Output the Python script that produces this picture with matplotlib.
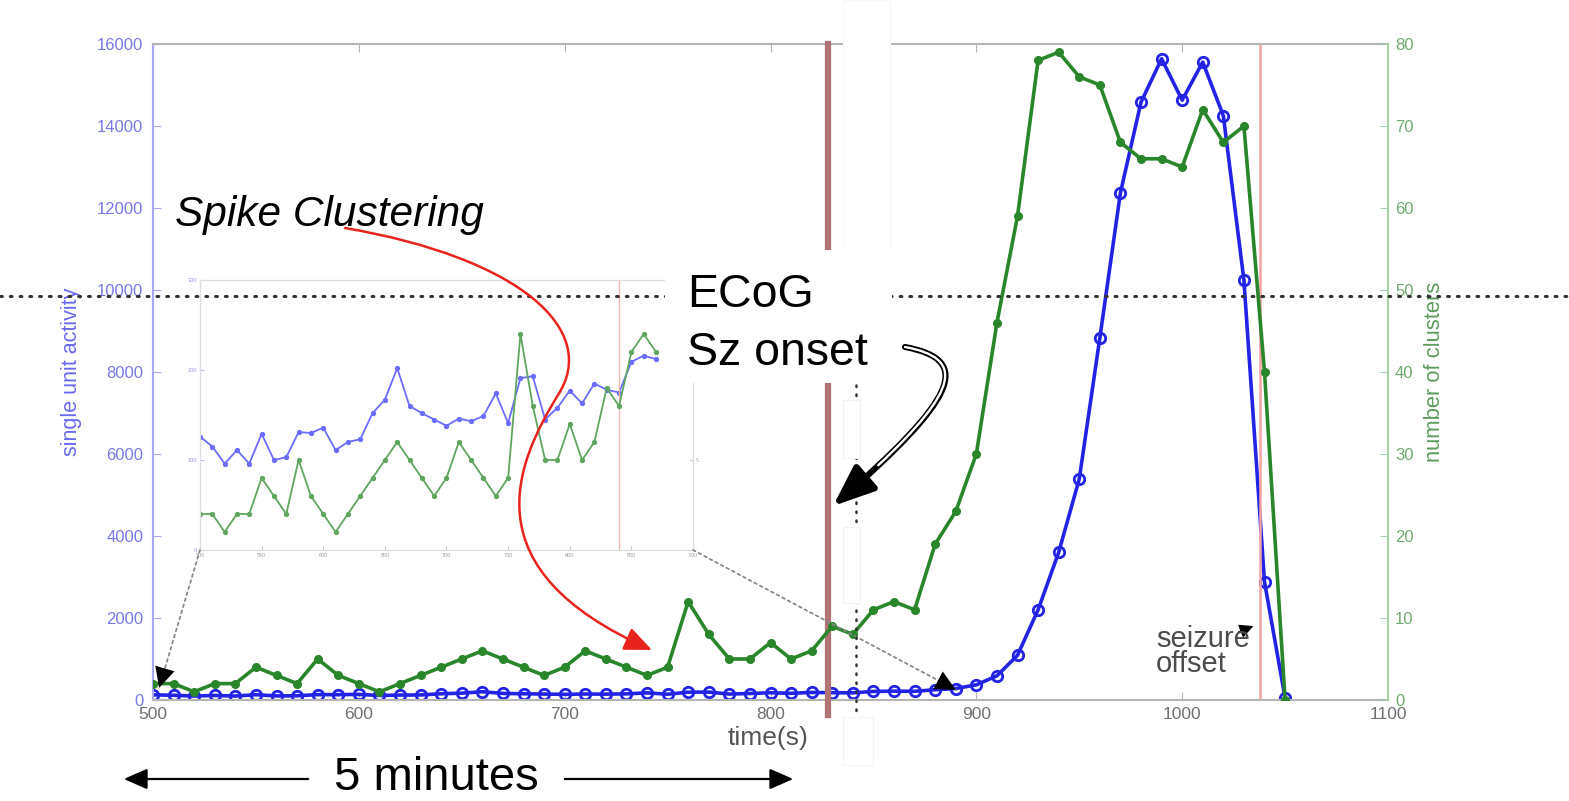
import matplotlib
matplotlib.use("Agg")
import matplotlib.pyplot as plt
from matplotlib.patches import Rectangle, FancyArrowPatch, ConnectionPatch
from matplotlib.path import Path
from matplotlib.lines import Line2D

plt.rcParams['font.family'] = ['Liberation Sans', 'DejaVu Sans']

# data
t = list(range(500, 1060, 10))  # time (s)
units = [126, 115, 96, 111, 96, 129, 100, 103, 131, 130,
         136, 111, 120, 123, 152, 167, 202, 160, 152, 145,
         138, 146, 143, 149, 174, 141, 191, 193, 145, 158,
         177, 163, 185, 178, 175, 209, 216, 212, 250, 280,
         370, 590, 1090, 2200, 3600, 5390, 8830, 12370, 14580, 15640,
         14630, 15560, 14250, 10240, 2880, 50]
clusters = [2, 2, 1, 2, 2, 4, 3, 2, 5, 3,
            2, 1, 2, 3, 4, 5, 6, 5, 4, 3,
            4, 6, 5, 4, 3, 4, 12, 8, 5, 5,
            7, 5, 6, 9, 8, 11, 12, 11, 19, 23,
            30, 46, 59, 78, 79, 76, 75, 68, 66, 66,
            65, 72, 68, 70, 40, 0]
n_inset = 38          # inset shows 500..870 s
onset = 828           # ECoG seizure onset (s)
offset = 1038         # seizure offset (s)
inset_marker = 840

W, H = 1569, 801
def fx(x):
    return x / W
def fy(y):
    return 1 - y / H

fig = plt.figure(figsize=(W / 100, H / 100), dpi=100)

# ---- main plot ----
ax = fig.add_axes([fx(153), fy(700), fx(1388) - fx(153), fy(44) - fy(700)])
ax2 = ax.twinx()

blue = '#2323e6'
green = '#2a862a'
ax.plot(t, units, color=blue, lw=2.6, marker='o', ms=7.5, mfc='none', mew=2)
ax2.plot(t, clusters, color=green, lw=2.6, marker='o', ms=5.5, mfc=green, mec=green)

ax.set_xlim(500, 1100)
ax.set_ylim(0, 16000)
ax2.set_ylim(0, 80)
ax.set_xticks(range(500, 1101, 100))
ax.set_yticks(range(0, 16001, 2000))
ax2.set_yticks(range(0, 81, 10))

ax.axvline(offset, color='#f4a3a3', lw=1.8)
ax.axvline(onset, ymin=-0.023, ymax=1, color='#b07474', lw=4.5, clip_on=False, zorder=5)

for s in ['top', 'bottom']:
    ax.spines[s].set_color('#b4b4b4')
    ax.spines[s].set_linewidth(1.5)
ax.spines['left'].set_color('#a8a8f4')
ax.spines['left'].set_linewidth(1.5)
ax.spines['right'].set_visible(False)
for s in ['top', 'bottom', 'left']:
    ax2.spines[s].set_visible(False)
ax2.spines['right'].set_color('#a6d2a6')
ax2.spines['right'].set_linewidth(1.5)

ax.tick_params(axis='x', direction='in', top=True, length=6, colors='#b4b4b4',
               labelcolor='#707070', labelsize=12.5, pad=5)
ax.tick_params(axis='y', direction='in', length=6, colors='#a8a8f4',
               labelcolor='#7878e6', labelsize=12, pad=7)
ax2.tick_params(axis='y', direction='in', length=6, colors='#a6d2a6',
                labelcolor='#6fa86f', labelsize=12, pad=5)

fig.text(fx(72), fy(372), 'single unit activity', rotation=90, ha='center', va='center',
         color='#6a6af0', fontsize=15.5)
fig.text(fx(1435), fy(372), 'number of clusters', rotation=90, ha='center', va='center',
         color='#5c9c5c', fontsize=15.8)
fig.text(fx(768), fy(738), 'time(s)', ha='center', va='center', color='#555555', fontsize=19)

# ---- inset ----
axin = fig.add_axes([fx(200), fy(550), fx(693) - fx(200), fy(280) - fy(550)])
axin.set_zorder(6)
axin2 = axin.twinx()
axin2.set_zorder(7)
axin2.patch.set_visible(False)
axin.plot(t[:n_inset], units[:n_inset], color='#6c6cff', lw=1.3, marker='o', ms=2.8)
axin2.plot(t[:n_inset], clusters[:n_inset], color='#5fa65f', lw=1.3, marker='o', ms=2.8)
axin.axvline(inset_marker, color='#f2b6b6', lw=1)
axin.set_xlim(500, 900)
axin.set_ylim(0, 300)
axin2.set_ylim(0, 15)
axin.set_xticks(range(500, 901, 50))
axin.set_yticks([0, 100, 200, 300])
axin2.set_yticks([0, 5, 10, 15])
axin2.set_yticklabels(['', '5', '', ''])
for a in (axin, axin2):
    for s in a.spines.values():
        s.set_color('#dddddd')
axin.spines['left'].set_color('#c4c4f6')
axin.tick_params(direction='in', length=3, labelsize=4, colors='#c8c8c8', labelcolor='#a0a0a0', pad=2)
axin.tick_params(axis='y', colors='#b8b8f0', labelcolor='#9a9ae8')
axin2.tick_params(direction='in', length=3, labelsize=4, colors='#c8d8c8', labelcolor='#a0b8a0', pad=2)

# dotted connectors from inset to main axis
for corner, pt in [((0, 0), (503, 300)), ((1, 0), (890, 250))]:
    fig.add_artist(ConnectionPatch(corner, pt, coordsA=axin.transAxes, coordsB=ax.transData,
                                   color='#8a8a8a', lw=1.3, ls=(0, (1.5, 2)), zorder=8))
    fig.add_artist(ConnectionPatch(corner, pt, coordsA=axin.transAxes, coordsB=ax.transData,
                                   arrowstyle='-|>,head_length=0.8,head_width=0.4', mutation_scale=18,
                                   color='black', lw=0.01, zorder=8))

# ---- image overlays ----
fig.add_artist(Rectangle((fx(843), fy(250)), fx(890) - fx(843), fy(0) - fy(250),
                         transform=fig.transFigure, fc='white', ec='#f7f7f7', lw=0.8, zorder=9))
fig.add_artist(Line2D([0, 1], [fy(296), fy(296)], transform=fig.transFigure, color='#333333',
                      lw=2.2, ls=(0, (0.6, 2.6)), dash_capstyle='round', zorder=10))
fig.add_artist(Line2D([fx(856), fx(856)], [fy(385), fy(715)], transform=fig.transFigure,
                      color='#333333', lw=1.8, ls=(0, (0.6, 3.0)), dash_capstyle='round', zorder=9))
for (x0, y0, x1, y1) in [(843, 400, 860, 458), (843, 527, 860, 603), (843, 717, 873, 765)]:
    fig.add_artist(Rectangle((fx(x0), fy(y1)), fx(x1) - fx(x0), fy(y0) - fy(y1),
                             transform=fig.transFigure, fc='white', ec='#f3f3f3', lw=0.8, zorder=9.5))
fig.add_artist(Rectangle((fx(665), fy(383)), fx(892) - fx(665), fy(250) - fy(383),
                         transform=fig.transFigure, fc='white', ec='none', zorder=11))

# ---- annotations ----
fig.text(fx(175), fy(226), 'Spike Clustering', style='italic', fontsize=30.5, va='baseline',
         ha='left', color='black', zorder=13)
fig.text(fx(687), fy(307), 'ECoG', fontsize=33.5, va='baseline', ha='left', zorder=13)
fig.text(fx(687), fy(365), 'Sz onset', fontsize=33.5, va='baseline', ha='left', zorder=13)
fig.text(fx(1156), fy(647), 'seizure', fontsize=21, va='baseline', ha='left', color='#4c4c4c', zorder=13)
fig.text(fx(1156), fy(672), 'offset', fontsize=21, va='baseline', ha='left', color='#4c4c4c', zorder=13)
fig.text(fx(436), fy(800), '5 minutes', fontsize=34, va='bottom', ha='center', zorder=13)

# red S-curve arrow
red_pts = [(345, 228), (520, 258), (600, 330), (558, 395), (515, 465), (470, 570), (652, 650)]
red_path = Path([(fx(x), fy(y)) for x, y in red_pts],
                [Path.MOVETO] + [Path.CURVE4] * 6)
fig.add_artist(FancyArrowPatch(path=red_path, transform=fig.transFigure,
                               arrowstyle='-|>,head_length=0.7,head_width=0.3', mutation_scale=24,
                               color='#e8231e', lw=1.8, zorder=12))

# hollow black arrow to onset line
def split_cubic(p, s):
    a = [(p[0][0] + (p[1][0] - p[0][0]) * s, p[0][1] + (p[1][1] - p[0][1]) * s),
         (p[1][0] + (p[2][0] - p[1][0]) * s, p[1][1] + (p[2][1] - p[1][1]) * s),
         (p[2][0] + (p[3][0] - p[2][0]) * s, p[2][1] + (p[3][1] - p[2][1]) * s)]
    b = [(a[0][0] + (a[1][0] - a[0][0]) * s, a[0][1] + (a[1][1] - a[0][1]) * s),
         (a[1][0] + (a[2][0] - a[1][0]) * s, a[1][1] + (a[2][1] - a[1][1]) * s)]
    c = (b[0][0] + (b[1][0] - b[0][0]) * s, b[0][1] + (b[1][1] - b[0][1]) * s)
    return [p[0], a[0], b[0], c]

blk = [(905, 347), (975, 360), (955, 400), (833, 506)]
blk_path = Path([(fx(x), fy(y)) for x, y in blk], [Path.MOVETO] + [Path.CURVE4] * 3)
fig.add_artist(FancyArrowPatch(path=blk_path, transform=fig.transFigure,
                               arrowstyle='-|>,head_length=0.9,head_width=0.36', mutation_scale=28,
                               color='black', lw=4.4, zorder=12))
inner = split_cubic(blk, 0.86)
inner_path = Path([(fx(x), fy(y)) for x, y in inner], [Path.MOVETO] + [Path.CURVE4] * 3)
fig.add_artist(FancyArrowPatch(path=inner_path, transform=fig.transFigure, arrowstyle='-',
                               color='white', lw=1.7, zorder=12.5))

# small arrow at "seizure"
fig.add_artist(FancyArrowPatch((fx(1236), fy(633)), (fx(1256), fy(625)), transform=fig.transFigure,
                               arrowstyle='-|>,head_length=0.6,head_width=0.3', mutation_scale=14,
                               color='black', lw=1, zorder=13))

# 5 minutes span arrows
for x0, x1 in [(311, 121), (562, 796)]:
    fig.add_artist(FancyArrowPatch((fx(x0), fy(779)), (fx(x1), fy(779)), transform=fig.transFigure,
                                   arrowstyle='-|>,head_length=0.8,head_width=0.35', mutation_scale=18,
                                   color='black', lw=1.6, zorder=13))

fig.savefig('out.png', dpi=100)
